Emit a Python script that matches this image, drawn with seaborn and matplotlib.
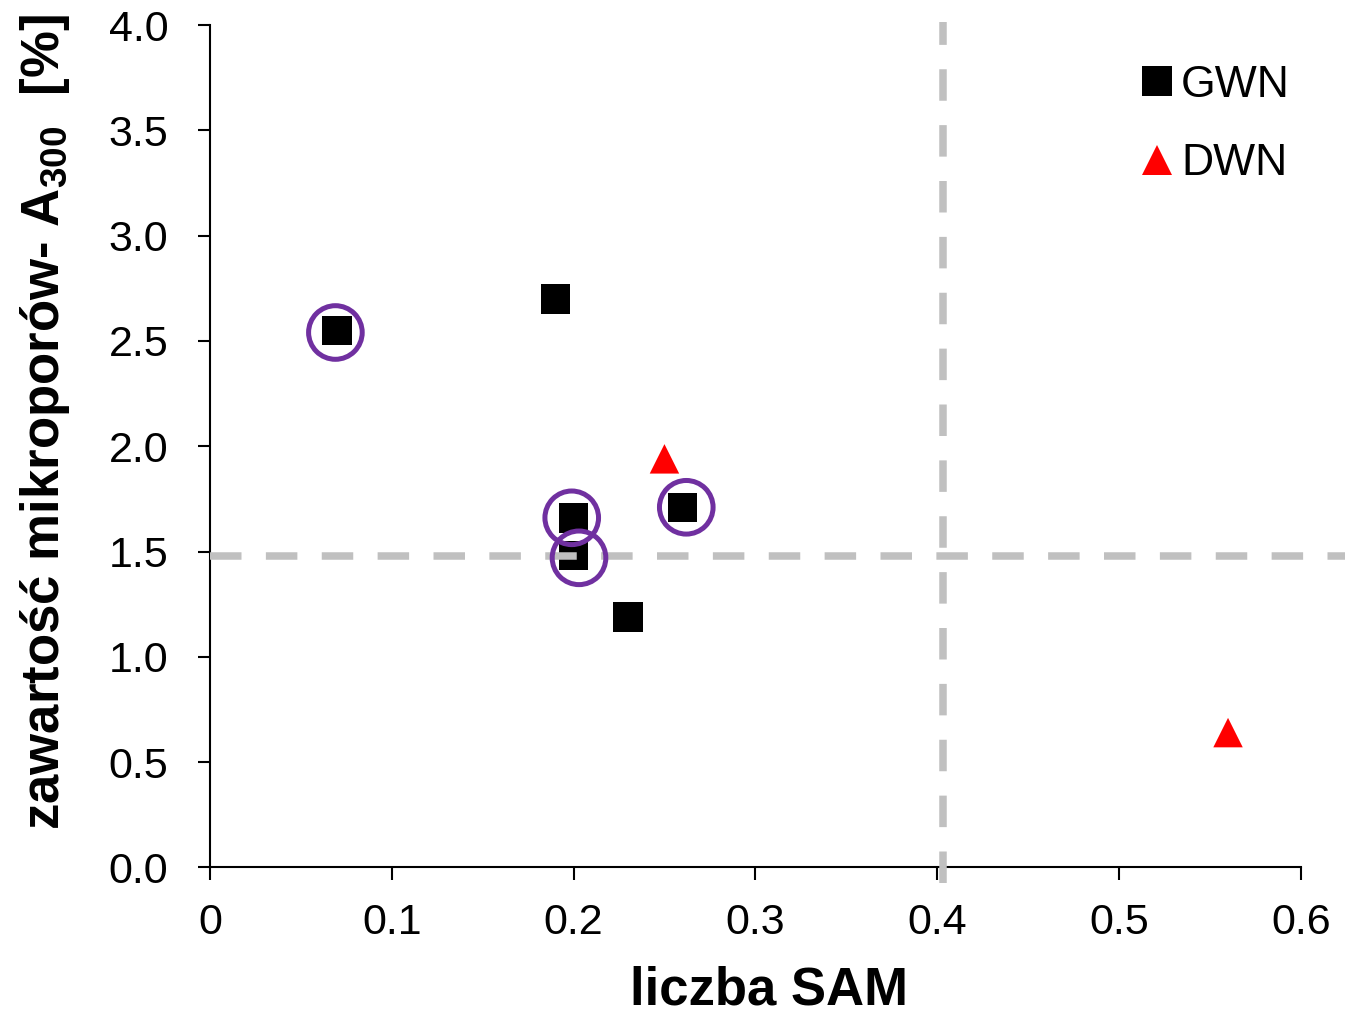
import matplotlib
matplotlib.use("Agg")
import matplotlib.pyplot as plt
import pandas as pd
import seaborn as sns

# GWN samples (liczba SAM, A300 %)
gwn_sam = [0.07, 0.19, 0.20, 0.20, 0.23, 0.26]
gwn_a300 = [2.55, 2.70, 1.66, 1.48, 1.19, 1.71]
# DWN samples
dwn_sam = [0.25, 0.56]
dwn_a300 = [1.94, 0.64]
# circled samples
circ_sam = [0.069, 0.199, 0.203, 0.262]
circ_a300 = [2.54, 1.66, 1.47, 1.71]
# limit lines
sam_limit = 0.403
a300_limit = 1.48

x_ticks = [0, 0.1, 0.2, 0.3, 0.4, 0.5, 0.6]
x_labels = ["0", "0.1", "0.2", "0.3", "0.4", "0.5", "0.6"]
y_ticks = [0, 0.5, 1.0, 1.5, 2.0, 2.5, 3.0, 3.5, 4.0]
y_labels = ["0.0", "0.5", "1.0", "1.5", "2.0", "2.5", "3.0", "3.5", "4.0"]

df = pd.DataFrame({
    "sam": gwn_sam + dwn_sam,
    "a300": gwn_a300 + dwn_a300,
    "grupa": ["GWN"] * len(gwn_sam) + ["DWN"] * len(dwn_sam),
})

sns.set_style("white")
plt.rcParams["font.family"] = ["Liberation Sans", "DejaVu Sans"]
plt.rcParams["mathtext.fontset"] = "custom"
plt.rcParams["mathtext.rm"] = "Liberation Sans"
plt.rcParams["mathtext.bf"] = "Liberation Sans:bold"
plt.rcParams["text.color"] = "black"
plt.rcParams["axes.labelcolor"] = "black"

fig = plt.figure(figsize=(13.45, 10.14), dpi=100)
ax = fig.add_axes([0.1561, 0.1446, 0.8110, 0.8307])

sns.scatterplot(data=df, x="sam", y="a300", hue="grupa", style="grupa",
                markers={"GWN": "s", "DWN": "^"},
                palette={"GWN": "black", "DWN": "red"},
                s=450, linewidth=0, ax=ax, zorder=3)

# dashed limit lines
dash = (0, (4.2, 3.25))
ax.axhline(a300_limit, xmin=0, xmax=1.05, color="#C0C0C0", lw=5.4,
           linestyle=dash, clip_on=False, zorder=4)
ax.axvline(sam_limit, ymin=-0.018, ymax=1.004, color="#C0C0C0", lw=5.4,
           linestyle=dash, clip_on=False, zorder=4)

# circles around selected samples
ax.scatter(circ_sam, circ_a300, s=1490, facecolors="none",
           edgecolors="#7030A0", linewidths=3.6, zorder=5)

ax.set_xlim(0, 0.6)
ax.set_ylim(0, 4.0)
ax.set_xticks(x_ticks, x_labels)
ax.set_yticks(y_ticks, y_labels)
sns.despine(ax=ax)
for s in ["left", "bottom"]:
    ax.spines[s].set_linewidth(1.5)
    ax.spines[s].set_color("black")
ax.tick_params(axis="both", direction="out", length=9, width=1.5,
               labelsize=31, colors="black", bottom=True, left=True)
ax.tick_params(axis="y", pad=21)
ax.tick_params(axis="x", pad=16.5)

ax.set_xlabel("liczba SAM", fontsize=38, fontweight="bold")
ax.set_ylabel(r"zawartość mikroporów- $\mathbf{A_{300}}$  [%]",
              fontsize=38, fontweight="bold")
ax.xaxis.set_label_coords(0.5125, -0.146)
ax.xaxis.label.set_va("center")
ax.yaxis.set_label_coords(-0.151, 0.529)
ax.yaxis.label.set_va("center")

ax.legend(frameon=False, loc="upper right", bbox_to_anchor=(0.99, 0.953),
          fontsize=32, handlelength=0.7, handletextpad=0.2,
          labelspacing=0.85, borderpad=0, borderaxespad=0, title=None)

fig.savefig("out.png", dpi=100)
